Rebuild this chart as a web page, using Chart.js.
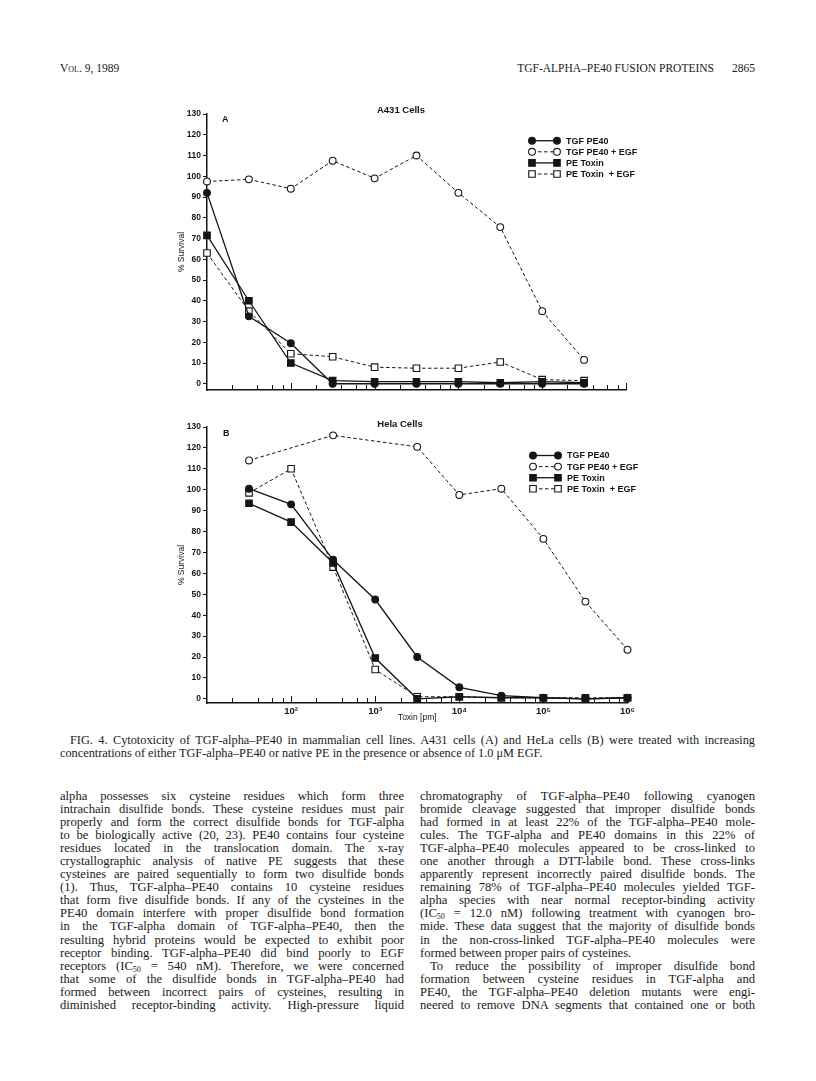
<!DOCTYPE html>
<html>
<head>
<meta charset="utf-8">
<script src="https://cdn.jsdelivr.net/npm/chart.js@4.4.1/dist/chart.umd.min.js"></script>
<style>
  body {
    margin: 0;
    width: 816px;
    height: 1081px;
    position: relative;
    overflow: hidden;
    background: #fff;
    color: #1a1a1a;
    font-family: "Liberation Serif", "Times New Roman", serif;
  }
  canvas { position: absolute; }
  .txt { position: absolute; font-size: 12.6px; }
  .line {
    height: 13.06px;
    line-height: 13.06px;
    text-align: justify;
    text-align-last: justify;
  }
  .line.last { text-align-last: left; }
  .line.indent { padding-left: 10px; }
  sub { font-size: 8px; line-height: 0; vertical-align: -2px; }
</style>
</head>
<body>

<div class="txt" style="left:60px;top:62px;font-size:11.5px;font-variant:small-caps;">Vol. 9, 1989</div>
<div class="txt" style="left:460px;top:62px;width:295px;font-size:11.5px;text-align:right;">TGF-ALPHA–PE40 FUSION PROTEINS<span style="margin-left:18px;">2865</span></div>

<canvas id="chartA" width="483" height="310" style="left:177px;top:95px;"></canvas>
<canvas id="chartB" width="485" height="320" style="left:177px;top:405px;"></canvas>

<div class="txt" style="left:60px;top:734px;width:695px;font-size:12.3px;">
  <div class="line indent">FIG. 4. Cytotoxicity of TGF-alpha–PE40 in mammalian cell lines. A431 cells (A) and HeLa cells (B) were treated with increasing</div>
  <div class="line last">concentrations of either TGF-alpha–PE40 or native PE in the presence or absence of 1.0 μM EGF.</div>
</div>

<div class="txt" style="left:60px;top:790px;width:344px;">
  <div class="line">alpha possesses six cysteine residues which form three</div>
  <div class="line">intrachain disulfide bonds. These cysteine residues must pair</div>
  <div class="line">properly and form the correct disulfide bonds for TGF-alpha</div>
  <div class="line">to be biologically active (20, 23). PE40 contains four cysteine</div>
  <div class="line">residues located in the translocation domain. The x-ray</div>
  <div class="line">crystallographic analysis of native PE suggests that these</div>
  <div class="line">cysteines are paired sequentially to form two disulfide bonds</div>
  <div class="line">(1). Thus, TGF-alpha–PE40 contains 10 cysteine residues</div>
  <div class="line">that form five disulfide bonds. If any of the cysteines in the</div>
  <div class="line">PE40 domain interfere with proper disulfide bond formation</div>
  <div class="line">in the TGF-alpha domain of TGF-alpha–PE40, then the</div>
  <div class="line">resulting hybrid proteins would be expected to exhibit poor</div>
  <div class="line">receptor binding. TGF-alpha–PE40 did bind poorly to EGF</div>
  <div class="line">receptors (IC<sub>50</sub> = 540 nM). Therefore, we were concerned</div>
  <div class="line">that some of the disulfide bonds in TGF-alpha–PE40 had</div>
  <div class="line">formed between incorrect pairs of cysteines, resulting in</div>
  <div class="line">diminished receptor-binding activity. High-pressure liquid</div>
</div>

<div class="txt" style="left:420px;top:790px;width:335px;">
  <div class="line">chromatography of TGF-alpha–PE40 following cyanogen</div>
  <div class="line">bromide cleavage suggested that improper disulfide bonds</div>
  <div class="line">had formed in at least 22% of the TGF-alpha–PE40 mole-</div>
  <div class="line">cules. The TGF-alpha and PE40 domains in this 22% of</div>
  <div class="line">TGF-alpha–PE40 molecules appeared to be cross-linked to</div>
  <div class="line">one another through a DTT-labile bond. These cross-links</div>
  <div class="line">apparently represent incorrectly paired disulfide bonds. The</div>
  <div class="line">remaining 78% of TGF-alpha–PE40 molecules yielded TGF-</div>
  <div class="line">alpha species with near normal receptor-binding activity</div>
  <div class="line">(IC<sub>50</sub> = 12.0 nM) following treatment with cyanogen bro-</div>
  <div class="line">mide. These data suggest that the majority of disulfide bonds</div>
  <div class="line">in the non-cross-linked TGF-alpha–PE40 molecules were</div>
  <div class="line last">formed between proper pairs of cysteines.</div>
  <div class="line indent">To reduce the possibility of improper disulfide bond</div>
  <div class="line">formation between cysteine residues in TGF-alpha and</div>
  <div class="line">PE40, the TGF-alpha–PE40 deletion mutants were engi-</div>
  <div class="line">neered to remove DNA segments that contained one or both</div>
</div>

<script>
"use strict";

// toxin doses (pm)
const doseA = [10, 31.6, 100, 316, 1000, 3160, 10000, 31600, 100000, 316000];
const doseB = [31.6, 100, 316, 1000, 3160, 10000, 31600, 100000, 316000, 1000000];

const seriesNames = ["TGF PE40", "TGF PE40 + EGF", "PE Toxin", "PE Toxin  + EGF"];

// A431 cells, % survival
const a431Tgf = [92, 32.5, 19.5, 0, 0, 0, 0, 0, 0, 0];
const a431TgfEgf = [97.5, 98.5, 94, 107.5, 99, 110, 92, 75.5, 35, 11.5];
const a431Pe = [71.5, 40, 10, 1.5, 1, 1, 1, 0.5, 1, 0.5];
const a431PeEgf = [63, 35, 14.5, 13, 8, 7.5, 7.5, 10.5, 2, 1.5];

// HeLa cells, % survival
const helaTgf = [100.5, 93, 66.5, 47.5, 20, 5.5, 1.5, 0.5, 0, 0.5];
const helaTgfEgf = [114, null, 126, null, 120.5, 97.5, 100.5, 76.5, 46.5, 23.5];
const helaPe = [93.5, 84.5, 65, 19.5, 0, 1, 0.5, 0.5, 0, 0.5];
const helaPeEgf = [98.5, 110, 63, 14, 1, 1, 0.5, 0.5, 0.5, 0.5];

const yTicks = [0, 10, 20, 30, 40, 50, 60, 70, 80, 90, 100, 110, 120, 130];
const xMajorTicks = [100, 1000, 10000, 100000, 1000000];
const xMinorTicks = [20, 40, 60, 80, 200, 400, 600, 800, 2000, 4000, 6000, 8000,
  20000, 40000, 60000, 80000, 200000, 400000, 600000, 800000];
const xTickLabels = ["10²", "10³", "10⁴", "10⁵", "10⁶"];

const ink = "#151515";
const sans = "'Liberation Sans', Arial, sans-serif";

const looks = [
  { shape: "circle", filled: true, dash: [] },
  { shape: "circle", filled: false, dash: [3.5, 2.5] },
  { shape: "rect", filled: true, dash: [] },
  { shape: "rect", filled: false, dash: [3.5, 2.5] },
];

const makeDatasets = function (dose, seriesList) {
  return seriesList.map((values, i) => {
    const look = looks[i];
    return {
      label: seriesNames[i],
      data: dose
        .map((x, j) => ({ x: x, y: values[j] }))
        .filter((p) => p.y !== null),
      borderColor: ink,
      borderWidth: look.filled ? 1.3 : 1,
      borderDash: look.dash,
      pointStyle: look.shape,
      pointRadius: look.shape === "rect" ? 4.6 : 3.4,
      pointBorderWidth: 1.1,
      pointBorderColor: ink,
      pointBackgroundColor: look.filled ? ink : "#fff",
      tension: 0,
      clip: false,
    };
  });
};

const paperPlugin = {
  id: "paper",
  afterDraw(chart, args, o) {
    const ctx = chart.ctx;
    const area = chart.chartArea;
    const xs = chart.scales.x;
    ctx.save();
    ctx.strokeStyle = ink;
    ctx.fillStyle = ink;

    // tick marks on the toxin axis point inward
    ctx.lineWidth = 1;
    ctx.beginPath();
    xMinorTicks.forEach((v) => {
      const px = Math.round(xs.getPixelForValue(v)) + 0.5;
      ctx.moveTo(px, area.bottom);
      ctx.lineTo(px, area.bottom - 5);
    });
    xMajorTicks.forEach((v) => {
      const px = Math.round(xs.getPixelForValue(v)) + 0.5;
      ctx.moveTo(px, area.bottom);
      ctx.lineTo(px, area.bottom - 7);
    });
    ctx.stroke();

    ctx.font = "bold 9.5px " + sans;
    ctx.textBaseline = "middle";
    ctx.textAlign = "center";
    ctx.fillText(o.title, area.left + o.titleDx, area.top + o.titleDy);
    ctx.font = "bold 9px " + sans;
    ctx.textAlign = "left";
    ctx.fillText(o.letter, area.left + o.letterDx, area.top + o.letterDy);

    // legend
    chart.data.datasets.forEach((ds, i) => {
      const y = area.top + o.legendDy + i * 11.1;
      const x1 = area.left + o.legendDx;
      const x2 = x1 + 25;
      ctx.lineWidth = ds.borderWidth;
      ctx.setLineDash(ds.borderDash);
      ctx.beginPath();
      ctx.moveTo(x1, y);
      ctx.lineTo(x2, y);
      ctx.stroke();
      ctx.setLineDash([]);
      ctx.lineWidth = ds.pointBorderWidth;
      ctx.fillStyle = ds.pointBackgroundColor;
      [x1, x2].forEach((px) => {
        Chart.helpers.drawPoint(ctx, {
          pointStyle: ds.pointStyle,
          radius: ds.pointRadius,
          rotation: 0,
          borderWidth: ds.pointBorderWidth,
        }, px, y);
      });
      ctx.fillStyle = ink;
      ctx.font = "bold 9px " + sans;
      ctx.fillText(ds.label, x2 + 9, y + 0.5);
    });
    ctx.restore();
  },
};

const makeChart = function (id, dose, seriesList, opt) {
  const ctx = document.getElementById(id).getContext("2d");
  return new Chart(ctx, {
    type: "line",
    data: { datasets: makeDatasets(dose, seriesList) },
    plugins: [paperPlugin],
    options: {
      responsive: false,
      animation: false,
      devicePixelRatio: 1,
      layout: { padding: { top: opt.padTop, right: opt.padRight, left: 0, bottom: 0 } },
      plugins: {
        legend: { display: false },
        tooltip: { enabled: false },
        paper: opt.paper,
      },
      scales: {
        x: {
          type: "logarithmic",
          min: 10,
          max: 1000000,
          grid: { display: false, drawTicks: false },
          border: { display: true, color: ink, width: 1.5 },
          afterBuildTicks: (s) => {
            s.ticks = xMajorTicks.map((v) => ({ value: v }));
          },
          afterFit: (s) => {
            s.height = opt.xHeight;
          },
          ticks: {
            display: opt.showX,
            autoSkip: false,
            maxRotation: 0,
            padding: 3,
            color: ink,
            font: { family: sans, size: 9.5, weight: "bold" },
            callback: (v) => xTickLabels[xMajorTicks.indexOf(v)],
          },
          title: {
            display: opt.showX,
            text: "Toxin [pm]",
            color: ink,
            font: { family: sans, size: 8.5 },
            padding: { top: 0, bottom: 2 },
          },
        },
        y: {
          min: opt.yMin,
          max: 130,
          grid: { drawOnChartArea: false, drawTicks: true, tickLength: 4, color: ink, lineWidth: 1 },
          border: { display: true, color: ink, width: 1.5 },
          afterBuildTicks: (s) => {
            s.ticks = yTicks.map((v) => ({ value: v }));
          },
          afterFit: (s) => {
            s.width = 30;
          },
          ticks: {
            padding: 2,
            color: ink,
            font: { family: sans, size: 8.5, weight: "bold" },
          },
          title: {
            display: true,
            text: "% Survival",
            color: ink,
            font: { family: sans, size: 8.5 },
            padding: 0,
          },
        },
      },
    },
  });
};

makeChart("chartA", doseA, [a431Tgf, a431TgfEgf, a431Pe, a431PeEgf], {
  padTop: 19,
  padRight: 34,
  xHeight: 15,
  showX: false,
  yMin: -3,
  paper: {
    title: "A431 Cells", titleDx: 194, titleDy: -4,
    letter: "A", letterDx: 15, letterDy: 6,
    legendDx: 325, legendDy: 26.7,
  },
});

makeChart("chartB", doseB, [helaTgf, helaTgfEgf, helaPe, helaPeEgf], {
  padTop: 22,
  padRight: 34.5,
  xHeight: 22,
  showX: true,
  yMin: -2,
  paper: {
    title: "Hela Cells", titleDx: 193, titleDy: -3,
    letter: "B", letterDx: 16, letterDy: 7,
    legendDx: 326, legendDy: 28.5,
  },
});
</script>
</body>
</html>
